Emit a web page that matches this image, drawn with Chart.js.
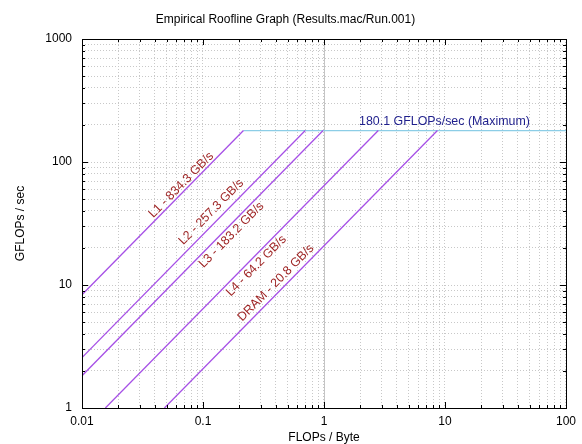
<!DOCTYPE html>
<html>
<head>
<meta charset="utf-8">
<title>Empirical Roofline Graph</title>
<script src="https://cdn.jsdelivr.net/npm/chart.js@4"></script>
<style>
  html, body { margin: 0; padding: 0; background: #fff; }
  #wrap { width: 582px; height: 444px; }
</style>
</head>
<body>
<div id="wrap"><canvas id="roofline"></canvas></div>
<script>
// roofs
const roofNames = ['L1', 'L2', 'L3', 'L4', 'DRAM'];
const roofBandwidths = [834.3, 257.3, 183.2, 64.2, 20.8];
const roofStartX = [0.01, 0.01, 0.01, 0.0156, 0.048];
const roofStartY = [8.34, 2.57, 1.83, 1, 1];
const roofEndX = [0.216, 0.70, 0.983, 2.81, 8.66];
const peakGflops = 180.1;
const peakStartX = 0.216;
const peakEndX = 100;

// where the text labels sit (data coords, label centre)
const labelX = [0.0660, 0.117, 0.172, 0.276, 0.400];
const labelY = [65.0, 39.2, 25.5, 14.3, 10.4];
const peakLabelX = 9.9;
const peakLabelY = 215;

const xDecades = [0.01, 0.1, 1, 10, 100];
const yDecades = [1, 10, 100, 1000];

function logTicks(decades) {
    const out = [];
    decades.forEach(function (d, i) {
        out.push(d);
        if (i < decades.length - 1) {
            for (let m = 2; m <= 9; m++) out.push(+(d * m).toPrecision(3));
        }
    });
    return out;
}
const xTickValues = logTicks(xDecades);
const yTickValues = logTicks(yDecades);

function isDecade(v) {
    const l = Math.log10(v);
    return Math.abs(l - Math.round(l)) < 1e-6;
}

Chart.defaults.font.family = '"Liberation Sans", Arial, Helvetica, sans-serif';
Chart.defaults.font.size = 12;
Chart.defaults.color = '#000';

const datasets = roofNames.map(function (name, i) {
    return {
        label: name,
        data: [{ x: roofStartX[i], y: roofStartY[i] }, { x: roofEndX[i], y: peakGflops }],
        borderColor: 'rgb(166, 80, 230)',
        backgroundColor: 'rgb(166, 80, 230)',
        borderWidth: 1.3,
        pointRadius: 0,
        tension: 0,
        showLine: true
    };
});
datasets.push({
    label: 'Maximum',
    data: [{ x: peakStartX, y: peakGflops }, { x: peakEndX, y: peakGflops }],
    borderColor: 'rgb(140, 205, 230)',
    backgroundColor: 'rgb(140, 205, 230)',
    borderWidth: 1.3,
    pointRadius: 0,
    showLine: true
});

const gnuplotDecor = {
    id: 'gnuplotDecor',
    beforeDatasetsDraw(chart) {
        const { ctx, chartArea: a, scales } = chart;
        const x1 = Math.round(scales.x.getPixelForValue(1)) + 0.5;
        ctx.save();
        ctx.strokeStyle = '#c4c4c4';
        ctx.lineWidth = 1;
        ctx.beginPath();
        ctx.moveTo(x1, a.top);
        ctx.lineTo(x1, a.bottom);
        ctx.stroke();
        ctx.restore();
    },
    afterDatasetsDraw(chart) {
        const { ctx, chartArea: a, scales } = chart;
        const xs = scales.x, ys = scales.y;
        ctx.save();
        // border
        ctx.strokeStyle = '#000';
        ctx.lineWidth = 1;
        ctx.strokeRect(Math.round(a.left) + 0.5, Math.round(a.top) + 0.5,
            Math.round(a.right - a.left), Math.round(a.bottom - a.top));
        // inward ticks on all four sides
        ctx.beginPath();
        xTickValues.forEach(function (v) {
            const p = Math.round(xs.getPixelForValue(v)) + 0.5;
            const len = isDecade(v) ? 6 : 3;
            ctx.moveTo(p, a.bottom); ctx.lineTo(p, a.bottom - len);
            ctx.moveTo(p, a.top); ctx.lineTo(p, a.top + len);
        });
        yTickValues.forEach(function (v) {
            const p = Math.round(ys.getPixelForValue(v)) + 0.5;
            const len = isDecade(v) ? 6 : 3;
            ctx.moveTo(a.left, p); ctx.lineTo(a.left + len, p);
            ctx.moveTo(a.right, p); ctx.lineTo(a.right - len, p);
        });
        ctx.stroke();

        // roof labels, rotated along their lines
        ctx.font = '12.4px "Liberation Sans", Arial, sans-serif';
        ctx.textAlign = 'center';
        ctx.textBaseline = 'middle';
        ctx.fillStyle = '#9c1f1f';
        roofNames.forEach(function (name, i) {
            const dx = xs.getPixelForValue(roofEndX[i]) - xs.getPixelForValue(roofStartX[i]);
            const dy = ys.getPixelForValue(peakGflops) - ys.getPixelForValue(roofStartY[i]);
            const ang = Math.atan2(dy, dx);
            ctx.save();
            ctx.translate(xs.getPixelForValue(labelX[i]), ys.getPixelForValue(labelY[i]));
            ctx.rotate(ang);
            ctx.fillText(name + ' - ' + roofBandwidths[i].toFixed(1) + ' GB/s', 0, 0);
            ctx.restore();
        });
        ctx.fillStyle = '#1f1f8c';
        ctx.fillText(peakGflops.toFixed(1) + ' GFLOPs/sec (Maximum)',
            xs.getPixelForValue(peakLabelX), ys.getPixelForValue(peakLabelY));
        ctx.restore();
    }
};

const ctx = document.getElementById('roofline').getContext('2d');
new Chart(ctx, {
    type: 'scatter',
    data: { datasets: datasets },
    plugins: [gnuplotDecor],
    options: {
        responsive: true,
        maintainAspectRatio: false,
        animation: false,
        layout: { padding: { left: 0, right: 11, top: 0, bottom: 0 } },
        plugins: {
            legend: { display: false },
            tooltip: { enabled: false },
            title: {
                display: true,
                text: 'Empirical Roofline Graph (Results.mac/Run.001)',
                font: { size: 12, weight: 'normal' },
                color: '#000',
                padding: { top: 12, bottom: 12.6 }
            }
        },
        scales: {
            x: {
                type: 'logarithmic',
                min: 0.01,
                max: 100,
                afterBuildTicks: function (scale) {
                    scale.ticks = xTickValues.map(function (v) { return { value: v }; });
                },
                afterFit: function (scale) { scale.height = 36; },
                ticks: {
                    autoSkip: false,
                    maxRotation: 0,
                    padding: 6,
                    callback: function (value) {
                        return isDecade(value) ? String(+value.toPrecision(3)) : '';
                    }
                },
                grid: { color: '#c8c8c8', drawTicks: false },
                border: { display: false, dash: [1, 2] },
                title: {
                    display: true,
                    text: 'FLOPs / Byte',
                    font: { size: 12, lineHeight: 1 },
                    padding: { top: 0, bottom: 0 }
                }
            },
            y: {
                type: 'logarithmic',
                min: 1,
                max: 1000,
                afterBuildTicks: function (scale) {
                    scale.ticks = yTickValues.map(function (v) { return { value: v }; });
                },
                afterFit: function (scale) { scale.width = 82; },
                ticks: {
                    autoSkip: false,
                    padding: 10,
                    callback: function (value) {
                        return isDecade(value) ? String(+value.toPrecision(4)) : '';
                    }
                },
                grid: { color: '#c8c8c8', drawTicks: false },
                border: { display: false, dash: [1, 2] },
                title: {
                    display: true,
                    text: 'GFLOPs / sec',
                    font: { size: 12 },
                    padding: { top: 13, bottom: 0 }
                }
            }
        }
    }
});
</script>
</body>
</html>
